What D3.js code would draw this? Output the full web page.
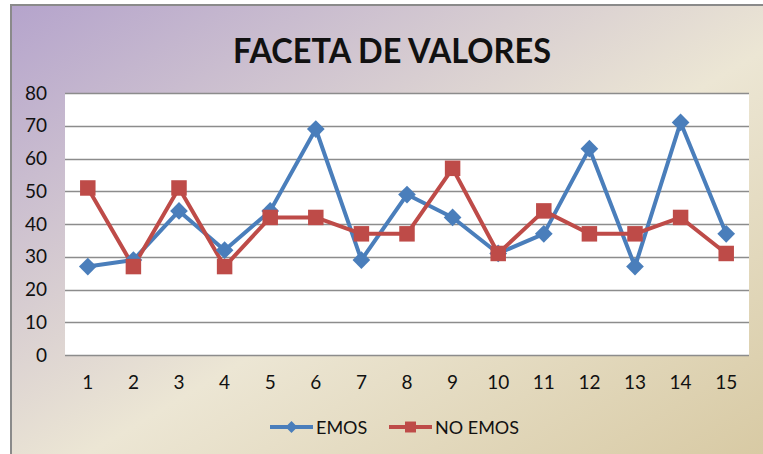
<!DOCTYPE html>
<html>
<head>
<meta charset="utf-8">
<title>Faceta de valores</title>
<script src="https://d3js.org/d3.v7.min.js"></script>
<style>
  body { margin: 0; background: #fff; }
  svg text { font-family: Lato, "Open Sans", sans-serif; fill: #111; }
</style>
</head>
<body>
<div id="chart"></div>
<script>
// data
var categories = [1, 2, 3, 4, 5, 6, 7, 8, 9, 10, 11, 12, 13, 14, 15];
var emos   = [27, 29, 44, 32, 44, 69, 29, 49, 42, 31, 37, 63, 27, 71, 37];
var noEmos = [51, 27, 51, 27, 42, 42, 37, 37, 57, 31, 44, 37, 37, 42, 31];
var yTicks = [0, 10, 20, 30, 40, 50, 60, 70, 80];
var seriesNames = ["EMOS", "NO EMOS"];

var W = 763, H = 454;
var svg = d3.select("#chart").append("svg").attr("width", W).attr("height", H);

// background gradient, purple top-left to tan bottom-right
var defs = svg.append("defs");
var grad = defs.append("linearGradient").attr("id", "bg")
  .attr("x1", "0%").attr("y1", "0%").attr("x2", "100%").attr("y2", "100%");
grad.append("stop").attr("offset", "0%").attr("stop-color", "#b5a4cc");
grad.append("stop").attr("offset", "55%").attr("stop-color", "#ece6d4");
grad.append("stop").attr("offset", "100%").attr("stop-color", "#d8caa4");

svg.append("rect").attr("x", 10).attr("y", 4).attr("width", W - 10).attr("height", H - 4)
  .attr("fill", "#8a8a8a");
svg.append("rect").attr("x", 12).attr("y", 6).attr("width", W - 12).attr("height", H - 6)
  .attr("fill", "url(#bg)");

svg.append("text").attr("x", 233).attr("y", 63)
  .attr("textLength", 318).attr("lengthAdjust", "spacingAndGlyphs")
  .style("font-size", "35px").style("font-weight", "bold")
  .text("FACETA DE VALORES");

var plot = { left: 65, right: 749, top: 93, bottom: 355 };

var x = d3.scaleBand().domain(categories).range([plot.left, plot.right]);
var y = d3.scaleLinear().domain([0, 80]).range([plot.bottom, plot.top]);

svg.append("rect").attr("x", plot.left).attr("y", plot.top)
  .attr("width", plot.right - plot.left).attr("height", plot.bottom - plot.top)
  .attr("fill", "#fff");

// gridlines
svg.append("g").selectAll("line").data(yTicks).join("line")
  .attr("x1", plot.left).attr("x2", plot.right)
  .attr("y1", function(d) { return Math.round(y(d)) + 0.5; })
  .attr("y2", function(d) { return Math.round(y(d)) + 0.5; })
  .attr("stroke", "#8c8c8c").attr("stroke-width", 1.3);

// axes
var yAxis = svg.append("g").attr("transform", "translate(" + plot.left + ",0)")
  .call(d3.axisLeft(y).tickValues(yTicks).tickSize(0).tickPadding(18));
yAxis.select(".domain").remove();
yAxis.selectAll("text").style("font-size", "19px");

var xAxis = svg.append("g").attr("transform", "translate(0," + plot.bottom + ")")
  .call(d3.axisBottom(x).tickSize(0).tickPadding(21));
xAxis.select(".domain").remove();
xAxis.selectAll("text").style("font-size", "19px");

var cx = function(d, i) { return x(categories[i]) + x.bandwidth() / 2; };

var blue = "#4a7ebb", red = "#be4b48";

var line = d3.line().x(function(d, i) { return cx(d, i); }).y(function(d) { return y(d); });

svg.append("path").datum(emos).attr("d", line)
  .attr("fill", "none").attr("stroke", blue).attr("stroke-width", 4).attr("stroke-linejoin", "round");
svg.append("path").datum(noEmos).attr("d", line)
  .attr("fill", "none").attr("stroke", red).attr("stroke-width", 4).attr("stroke-linejoin", "round");

var diamond = d3.symbol().type(d3.symbolDiamond2).size(200);
var square = d3.symbol().type(d3.symbolSquare).size(240);

svg.append("g").selectAll("path").data(emos).join("path")
  .attr("d", diamond)
  .attr("transform", function(d, i) { return "translate(" + cx(d, i) + "," + y(d) + ")"; })
  .attr("fill", blue);
svg.append("g").selectAll("path").data(noEmos).join("path")
  .attr("d", square)
  .attr("transform", function(d, i) { return "translate(" + cx(d, i) + "," + y(d) + ")"; })
  .attr("fill", red);

// legend
var legend = svg.append("g").attr("transform", "translate(0,427)");
var legendItems = [
  { name: seriesNames[0], color: blue, sym: d3.symbol().type(d3.symbolDiamond2).size(90), x0: 270 },
  { name: seriesNames[1], color: red, sym: d3.symbol().type(d3.symbolSquare).size(120), x0: 389 }
];
legendItems.forEach(function(it) {
  legend.append("line").attr("x1", it.x0).attr("x2", it.x0 + 43).attr("y1", 0).attr("y2", 0)
    .attr("stroke", it.color).attr("stroke-width", 4);
  legend.append("path").attr("d", it.sym).attr("fill", it.color)
    .attr("transform", "translate(" + (it.x0 + 21.5) + ",0)");
  legend.append("text").attr("x", it.x0 + 46).attr("y", 7).style("font-size", "18px").text(it.name);
});
</script>
</body>
</html>
